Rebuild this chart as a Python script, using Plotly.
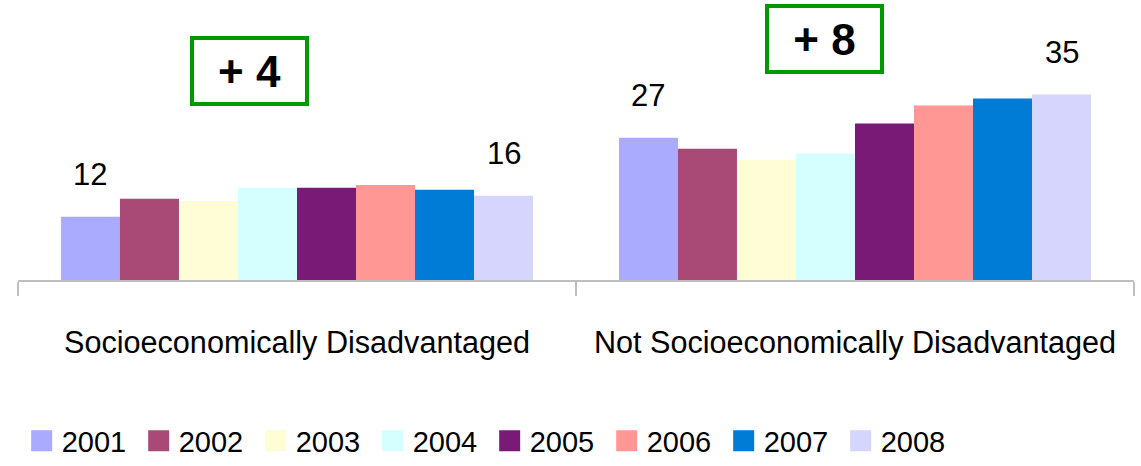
import plotly.graph_objects as go

categories = ["Socioeconomically Disadvantaged", "Not Socioeconomically Disadvantaged"]
years = ["2001", "2002", "2003", "2004", "2005", "2006", "2007", "2008"]
disadvantaged = [12, 15.4, 15, 17.5, 17.5, 18, 17.1, 16]
not_disadvantaged = [27, 24.9, 22.8, 24, 29.7, 33.1, 34.4, 35.2]
colors = ["#AAAAFF", "#A94975", "#FFFDD5", "#D5FEFE", "#7A1A77", "#FF9894", "#007BD6", "#D5D5FD"]
labels_shown = {(0, 0): "12", (0, 7): "16", (1, 0): "27", (1, 7): "35"}
change_labels = ["+ 4", "+ 8"]

FONT = "Liberation Sans, Arial, sans-serif"

fig = go.Figure()
for i, yr in enumerate(years):
    fig.add_trace(go.Bar(
        x=categories, y=[disadvantaged[i], not_disadvantaged[i]],
        name=yr, marker=dict(color=colors[i], line=dict(width=0)),
        showlegend=False, hoverinfo="skip",
    ))
# legend entries
for i, yr in enumerate(years):
    fig.add_trace(go.Scatter(
        x=[None], y=[None], mode="markers", name=yr,
        marker=dict(symbol="square", size=16, color=colors[i],
                    line=dict(color=colors[i], width=5)),
        showlegend=True,
    ))

bargap = 0.154
w = (1 - bargap) / len(years)
vals = [disadvantaged, not_disadvantaged]
for (g, i), txt in labels_shown.items():
    fig.add_annotation(
        x=g + (i - 3.5) * w, y=vals[g][i], xref="x", yref="y",
        text=txt, showarrow=False, yanchor="middle", yshift=42,
        font=dict(family=FONT, size=31, color="black"),
    )

box_pos = [(0.207, 0.748), (0.723, 0.861)]
for (bx, by), txt in zip(box_pos, change_labels):
    fig.add_annotation(
        x=bx, y=by, xref="paper", yref="paper", text="<b>%s</b>" % txt,
        showarrow=False, xanchor="center", yanchor="middle",
        font=dict(family=FONT, size=44, color="black"),
        bordercolor="#009900", borderwidth=4, borderpad=0,
        bgcolor="white", width=111, height=62,
    )

fig.update_layout(
    width=1141, height=466,
    margin=dict(l=18, r=7, t=0, b=186, autoexpand=False),
    paper_bgcolor="white", plot_bgcolor="white",
    barmode="group", bargap=bargap, bargroupgap=0,
    xaxis=dict(
        showline=True, linecolor="#BFBFBF", linewidth=2,
        ticks="outside", tickson="boundaries", ticklen=14, tickcolor="#BFBFBF", tickwidth=2,
        tickfont=dict(family=FONT, size=30.6, color="black"), tickangle=0,
        ticklabelstandoff=34,
        showgrid=False, zeroline=False, fixedrange=True, automargin=False,
    ),
    yaxis=dict(range=[0, 53.1], visible=False, showgrid=False, zeroline=False),
    legend=dict(
        orientation="h", xref="container", yref="container",
        x=0.019, y=0.0536, xanchor="left", yanchor="middle",
        font=dict(family=FONT, size=29, color="black"),
        entrywidth=72, entrywidthmode="pixels", itemsizing="trace",
        bgcolor="rgba(0,0,0,0)",
    ),
)

fig.write_html("out.html", config={"displayModeBar": False},
               post_script="document.body.style.margin='0';")
